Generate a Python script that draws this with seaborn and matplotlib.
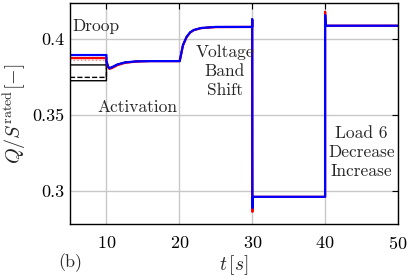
import matplotlib
matplotlib.use("Agg")
import matplotlib.pyplot as plt
import seaborn as sns

# values
t_pre = [5, 10]
pre_blue = 0.3895
pre_red = 0.3875
pre_pink = 0.386
pre_black = [0.3830, 0.3726]
pre_dashed = 0.3748

t_post = [10, 10.2, 10.4, 10.8, 11.5, 12.5, 14, 16, 20.05, 20.5, 21, 21.5,
          22, 23, 25, 30, 30, 30.02, 30.1, 35, 40, 40, 40.1, 45, 50]
q_blue = [0.3855, 0.3822, 0.3808, 0.3816, 0.3833, 0.3846, 0.3853, 0.3855,
          0.3855, 0.3960, 0.4015, 0.4045, 0.4060, 0.4073, 0.4080, 0.4080,
          0.4132, 0.2888, 0.2962, 0.2962, 0.2962, 0.4158, 0.4088, 0.4088, 0.4088]
q_red = [0.3855, 0.3818, 0.3804, 0.3810, 0.3828, 0.3843, 0.3852, 0.3855,
         0.3855, 0.3958, 0.4013, 0.4044, 0.4059, 0.4072, 0.4079, 0.4080,
         0.4125, 0.2863, 0.2962, 0.2962, 0.2962, 0.4180, 0.4088, 0.4088, 0.4088]

sns.set_style("white")
plt.rcParams["font.family"] = ["cmr10", "DejaVu Serif"]
plt.rcParams["mathtext.fontset"] = "cm"
plt.rcParams["axes.formatter.use_mathtext"] = True
plt.rcParams["axes.unicode_minus"] = False

fig = plt.figure(figsize=(4.1, 2.79), dpi=100)
ax = fig.add_axes([0.1707, 0.197, 0.8, 0.792])

ax.grid(True, color="#c8c8c8", linewidth=1.0)
ax.set_axisbelow(True)

t_all = t_pre + t_post
for v in pre_black:
    sns.lineplot(x=t_all, y=[v, v] + q_blue, color="black", sort=False,
                 linewidth=1.0, ax=ax, estimator=None)
sns.lineplot(x=t_all, y=[pre_dashed, pre_dashed] + q_blue, color="black", sort=False,
             linewidth=1.0, linestyle="--", dashes=(3, 1.5), ax=ax, estimator=None)
sns.lineplot(x=t_all, y=[pre_pink, pre_pink] + q_red, color="#ff8080", sort=False,
             linewidth=1.0, linestyle=":", ax=ax, estimator=None)
sns.lineplot(x=t_all, y=[pre_red, pre_red] + q_red, color="red", sort=False,
             linewidth=1.6, ax=ax, estimator=None)
sns.lineplot(x=t_all, y=[pre_blue, pre_blue] + q_blue, color="blue", sort=False,
             linewidth=1.6, ax=ax, estimator=None)

ax.set_xlim(5, 50)
ax.set_ylim(0.2783, 0.4237)
ax.set_xticks([10, 20, 30, 40, 50])
ax.set_yticks([0.3, 0.35, 0.4])
ax.set_yticklabels(["0.3", "0.35", "0.4"])
ax.tick_params(direction="in", top=True, right=True, length=4, width=0.8,
               labelsize=13, colors="black")
ax.tick_params(axis="x", pad=8)
ax.tick_params(axis="y", pad=4)
for s in ax.spines.values():
    s.set_color("black")
    s.set_linewidth(1.0)

ax.set_xlabel(r"$t\,[s]$", fontsize=14, labelpad=1)
ax.set_ylabel(r"$Q/S^{\mathrm{rated}}[-]$", fontsize=14.5, labelpad=3)
fig.text(0.171, 0.057, "(b)", fontsize=13, ha="center", va="center")

ax.text(5.3, 0.4085, "Droop", fontsize=12.5, ha="left", va="center")
ax.text(14.2, 0.3553, "Activation", fontsize=12.5, ha="center", va="center")
ax.text(26.2, 0.379, "Voltage\nBand\nShift", fontsize=12.5, ha="center",
        va="center", linespacing=1.3)
ax.text(45.0, 0.3257, "Load 6\nDecrease\nIncrease", fontsize=12.5, ha="center",
        va="center", linespacing=1.3)

fig.savefig("out.png", dpi=100)
